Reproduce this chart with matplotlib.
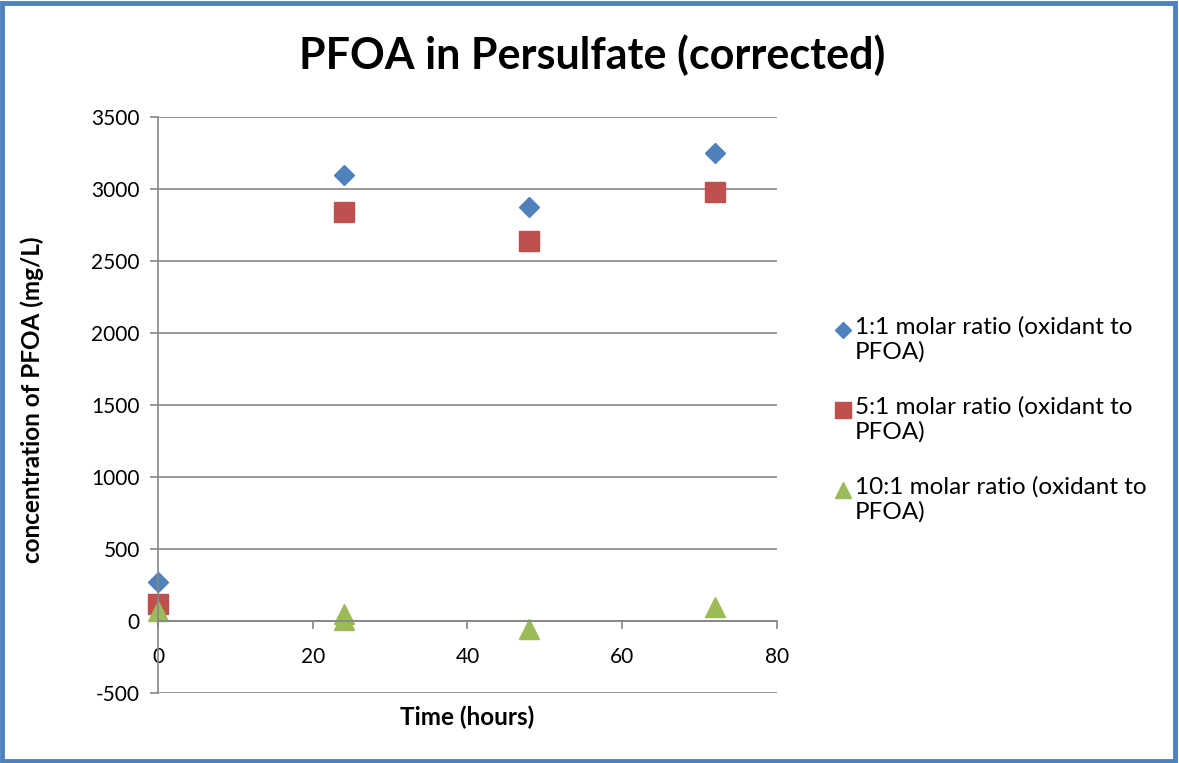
import matplotlib
matplotlib.use("Agg")
import matplotlib.pyplot as plt
from matplotlib.patches import Rectangle
from matplotlib.lines import Line2D

# data
time_11 = [0, 24, 48, 72]
conc_11 = [272, 3095, 2873, 3250]
time_51 = [0, 24, 48, 72]
conc_51 = [118, 2843, 2637, 2977]
time_101 = [0, 24, 24, 48, 72]
conc_101 = [66, 50, 5, -55, 97]

LAB = ["1:1 molar ratio (oxidant to\nPFOA)",
       "5:1 molar ratio (oxidant to\nPFOA)",
       "10:1 molar ratio (oxidant to\nPFOA)"]
BLUE, RED, GREEN = "#4F81BD", "#C0504D", "#9BBB59"
GRID = "#868686"

plt.rcParams["font.family"] = ["Lato", "DejaVu Sans"]
plt.rcParams["axes.unicode_minus"] = False

W, H = 1179, 763
fig = plt.figure(figsize=(W / 100, H / 100), dpi=100)
ax = fig.add_axes([158 / W, 1 - 693 / H, (777 - 158) / W, (693 - 117) / H])

ax.plot(time_11, conc_11, ls="none", marker="D", ms=10, color=BLUE, clip_on=False)
ax.plot(time_51, conc_51, ls="none", marker="s", ms=15, color=RED, clip_on=False)
ax.plot(time_101, conc_101, ls="none", marker="^", ms=15, color=GREEN, clip_on=False)

ax.set_xlim(0, 80)
ax.set_ylim(-500, 3500)
ax.set_xticks(range(0, 81, 20))
ax.set_yticks(range(-500, 3501, 500))
ax.yaxis.grid(True, color=GRID, lw=1.2)
ax.set_axisbelow(True)
for s in ["top", "right"]:
    ax.spines[s].set_visible(False)
ax.spines["bottom"].set_position(("data", 0))
for s in ["bottom", "left"]:
    ax.spines[s].set_color(GRID)
    ax.spines[s].set_linewidth(1.2)
ax.tick_params(axis="both", colors=GRID, labelcolor="black", labelsize=15,
               length=6, width=1.2, direction="out")
ax.tick_params(axis="x", pad=13)
ax.tick_params(axis="y", pad=7)

fig.text(592 / W, 1 - 55 / H, "PFOA in Persulfate (corrected)", ha="center", va="center",
         fontsize=31, fontweight="bold")
fig.text(32 / W, 1 - 400 / H, "concentration of PFOA (mg/L)", ha="center", va="center",
         rotation=90, fontsize=17.5, fontweight="bold")
fig.text(467 / W, 1 - 717 / H, "Time (hours)", ha="center", va="center",
         fontsize=17.5, fontweight="bold")

# legend, laid out by hand like Excel (marker beside the first line)
handles = [("D", 8, BLUE), ("s", 12, RED), ("^", 12, GREEN)]
for k, (lab, (mk, ms, col)) in enumerate(zip(LAB, handles)):
    yc = 330 + 80 * k
    fig.add_artist(Line2D([843 / W], [1 - yc / H], marker=mk, ms=ms, color=col,
                          ls="none", transform=fig.transFigure))
    fig.text(855 / W, 1 - (yc - 14) / H, lab, ha="left", va="top", fontsize=17.5,
             linespacing=1.22)

fig.patches.append(Rectangle((0.002, 0.003), 0.995, 0.993, transform=fig.transFigure,
                             fill=False, edgecolor=BLUE, lw=3.5))

fig.savefig("out.png", dpi=100)
